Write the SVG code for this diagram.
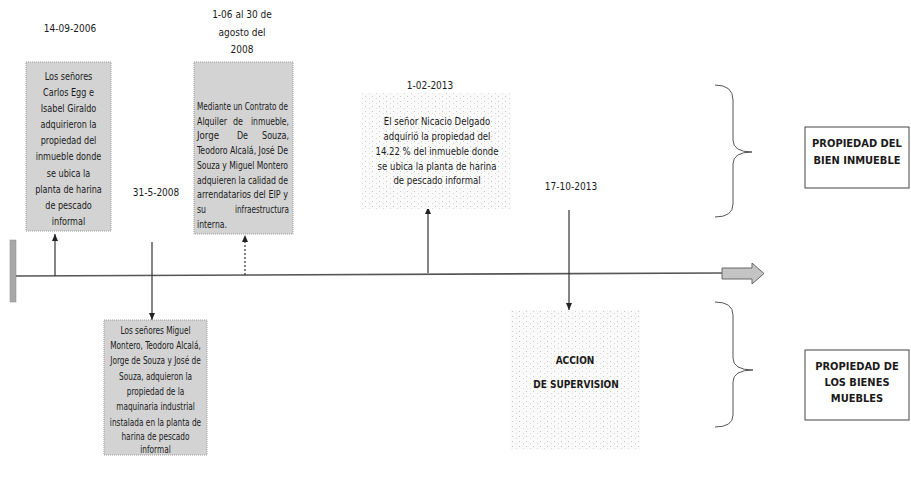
<svg xmlns="http://www.w3.org/2000/svg" width="911" height="477" viewBox="0 0 911 477">
<style>
.t{font-family:"DejaVu Sans Condensed","Liberation Sans",sans-serif;font-size:10px;fill:#1a1a1a}
.m{text-anchor:middle}
.e{text-anchor:end}
.b{font-weight:bold}
.gbox{fill:#d3d3d3;stroke:#9a9a9a;stroke-width:1;stroke-dasharray:1 1}
.lbox{fill:url(#speck)}
.conn{stroke:#333;stroke-width:1.2;fill:none}
.brace{stroke:#555;stroke-width:1;fill:none}
.lab{fill:#fff;stroke:#444;stroke-width:1}
</style>
<defs>
<pattern id="speck" width="7" height="5" patternUnits="userSpaceOnUse">
<rect width="7" height="5" fill="#fafafa"/>
<rect x="1" y="1" width="1" height="1" fill="#c8c8c8"/>
<rect x="5" y="3" width="1" height="1" fill="#d8d8d8"/>
</pattern>
<marker id="ah" markerWidth="8" markerHeight="8" refX="7" refY="4" orient="auto" markerUnits="userSpaceOnUse">
<path d="M0,1 L7,4 L0,7 Z" fill="#222"/>
</marker>
</defs>
<rect width="911" height="477" fill="#fff"/>

<g id="timeline">
<rect x="10" y="240" width="6" height="62" fill="#a8a8a8" stroke="#888" stroke-width="0.5"/>
<line x1="16" y1="276" x2="722" y2="273" stroke="#555" stroke-width="1.6"/>
<path d="M722,268 L752,268 L752,263 L764,273.5 L752,284 L752,279 L722,279 Z" fill="#c4c4c4" stroke="#666" stroke-width="1"/>
</g>

<g id="connectors">
<line class="conn" x1="55" y1="276" x2="55" y2="234" marker-end="url(#ah)"/>
<line class="conn" x1="152" y1="242" x2="152" y2="320" marker-end="url(#ah)"/>
<line class="conn" x1="245" y1="275" x2="245" y2="235" stroke-dasharray="2 2" marker-end="url(#ah)"/>
<line class="conn" x1="428" y1="273" x2="428" y2="207" marker-end="url(#ah)"/>
<line class="conn" x1="569" y1="210" x2="569" y2="310" marker-end="url(#ah)"/>
</g>

<g id="date1"><text class="t m" x="70" y="32">14-09-2006</text></g>
<g id="date2"><text class="t m" x="156" y="196">31-5-2008</text></g>
<g id="date3">
<text class="t m" x="242" y="18">1-06 al 30 de</text>
<text class="t m" x="242" y="36">agosto del</text>
<text class="t m" x="242" y="53">2008</text>
</g>
<g id="date4"><text class="t m" x="430" y="89">1-02-2013</text></g>
<g id="date5"><text class="t m" x="571" y="190">17-10-2013</text></g>

<g id="box1">
<rect class="gbox" x="26" y="62" width="85" height="169"/>
<g transform="translate(68.5 0) scale(0.9 1)">
<text class="t m" x="0" y="80">Los señores</text>
<text class="t m" x="0" y="96">Carlos Egg e</text>
<text class="t m" x="0" y="112">Isabel Giraldo</text>
<text class="t m" x="0" y="128">adquirieron la</text>
<text class="t m" x="0" y="144">propiedad del</text>
<text class="t m" x="0" y="160">inmueble donde</text>
<text class="t m" x="0" y="177">se ubica la</text>
<text class="t m" x="0" y="193">planta de harina</text>
<text class="t m" x="0" y="209">de pescado</text>
<text class="t m" x="0" y="225">informal</text>
</g>
</g>

<g id="box3">
<rect class="gbox" x="194" y="62" width="99" height="172"/>
<text class="t" x="197" y="110" textLength="91" lengthAdjust="spacingAndGlyphs">Mediante un Contrato de</text>
<text class="t" x="197" y="125" textLength="30" lengthAdjust="spacingAndGlyphs">Alquiler</text>
<text class="t" x="233" y="125" textLength="10" lengthAdjust="spacingAndGlyphs">de</text>
<text class="t" x="251" y="125" textLength="38" lengthAdjust="spacingAndGlyphs">inmueble,</text>
<text class="t" x="197" y="139" textLength="22" lengthAdjust="spacingAndGlyphs">Jorge</text>
<text class="t" x="237" y="139" textLength="11" lengthAdjust="spacingAndGlyphs">De</text>
<text class="t" x="262" y="139" textLength="27" lengthAdjust="spacingAndGlyphs">Souza,</text>
<text class="t" x="197" y="154" textLength="91" lengthAdjust="spacingAndGlyphs">Teodoro Alcalá, José De</text>
<text class="t" x="197" y="169" textLength="91" lengthAdjust="spacingAndGlyphs">Souza y Miguel Montero</text>
<text class="t" x="197" y="184" textLength="91" lengthAdjust="spacingAndGlyphs">adquieren la calidad de</text>
<text class="t" x="197" y="198" textLength="91" lengthAdjust="spacingAndGlyphs">arrendatarios del EIP y</text>
<text class="t" x="197" y="213" textLength="9" lengthAdjust="spacingAndGlyphs">su</text>
<text class="t" x="235" y="213" textLength="54" lengthAdjust="spacingAndGlyphs">infraestructura</text>
<text class="t" x="197" y="228" textLength="30" lengthAdjust="spacingAndGlyphs">interna.</text>
</g>

<g id="box4">
<rect class="lbox" x="361" y="93" width="150" height="116"/>
<g transform="translate(437 0) scale(0.95 1)">
<text class="t m" x="0" y="125">El señor Nicacio Delgado</text>
<text class="t m" x="0" y="140">adquirió la propiedad del</text>
<text class="t m" x="0" y="155">14.22 % del inmueble donde</text>
<text class="t m" x="0" y="170">se ubica la planta de harina</text>
<text class="t m" x="0" y="184">de pescado informal</text>
</g>
</g>

<g id="box2">
<rect class="gbox" x="104" y="320" width="103" height="135"/>
<g transform="translate(155.5 0) scale(0.82 1)">
<text class="t m" x="0" y="334">Los señores Miguel</text>
<text class="t m" x="0" y="349">Montero, Teodoro Alcalá,</text>
<text class="t m" x="0" y="364">Jorge de Souza y José de</text>
<text class="t m" x="0" y="380">Souza, adquieron la</text>
<text class="t m" x="0" y="395">propiedad de la</text>
<text class="t m" x="0" y="410">maquinaria industrial</text>
<text class="t m" x="0" y="426">instalada en la planta de</text>
<text class="t m" x="0" y="440">harina de pescado</text>
<text class="t m" x="0" y="453">informal</text>
</g>
</g>

<g id="box5">
<rect class="lbox" x="510" y="310" width="130" height="140"/>
<text class="t m b" x="575" y="364">ACCION</text>
<text class="t m b" x="576" y="388">DE SUPERVISION</text>
</g>

<g id="brace1"><path class="brace" d="M715,85 Q733,85 733,100 L733,140 Q733,152 752,152 Q733,152 733,164 L733,204 Q733,217 715,217"/></g>
<g id="brace2"><path class="brace" d="M715,302 Q733,302 733,315 L733,358 Q733,370 753,370 Q733,370 733,382 L733,415 Q733,427 715,427"/></g>

<g id="label1">
<rect class="lab" x="805" y="127" width="104" height="61"/>
<text class="t m b" x="857" y="147" style="font-size:11px">PROPIEDAD DEL</text>
<text class="t m b" x="857" y="164" style="font-size:11px">BIEN INMUEBLE</text>
</g>
<g id="label2">
<rect class="lab" x="805" y="350" width="104" height="70"/>
<text class="t m b" x="857" y="370" style="font-size:11px">PROPIEDAD DE</text>
<text class="t m b" x="857" y="386" style="font-size:11px">LOS BIENES</text>
<text class="t m b" x="857" y="402" style="font-size:11px">MUEBLES</text>
</g>
</svg>
